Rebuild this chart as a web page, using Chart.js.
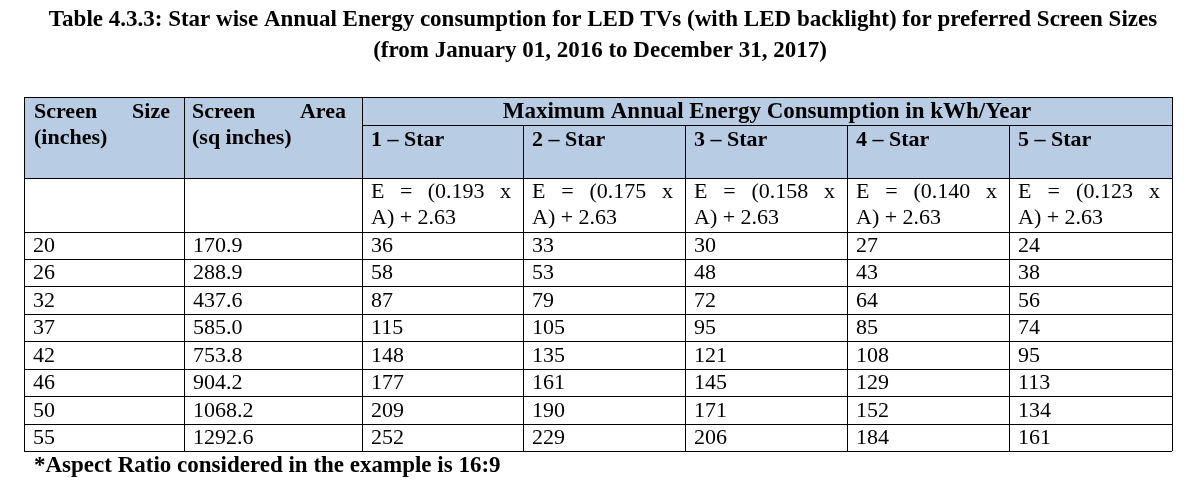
<!DOCTYPE html>
<html>
<head>
<meta charset="utf-8">
<script src="https://cdn.jsdelivr.net/npm/chart.js@4"></script>
<style>
  html, body { margin: 0; padding: 0; background: #fff; }
  #wrap { width: 1187px; height: 487px; }
</style>
</head>
<body>
<div id="wrap"><canvas id="c"></canvas></div>
<script>
// table data
const screenSizes = ['20', '26', '32', '37', '42', '46', '50', '55'];
const screenAreas = ['170.9', '288.9', '437.6', '585.0', '753.8', '904.2', '1068.2', '1292.6'];
const star1 = [36, 58, 87, 115, 148, 177, 209, 252];
const star2 = [33, 53, 79, 105, 135, 161, 190, 229];
const star3 = [30, 48, 72, 95, 121, 145, 171, 206];
const star4 = [27, 43, 64, 85, 108, 129, 152, 184];
const star5 = [24, 38, 56, 74, 95, 113, 134, 161];
const starLabels = ['1 – Star', '2 – Star', '3 – Star', '4 – Star', '5 – Star'];
const coeffs = ['0.193', '0.175', '0.158', '0.140', '0.123'];
const titleLines = [
  'Table 4.3.3: Star wise Annual Energy consumption for LED TVs (with LED backlight) for preferred Screen Sizes',
  '(from January 01, 2016 to December 31, 2017)'
];
const footnote = '*Aspect Ratio considered in the example is 16:9';

// layout (in scale units == pixels)
const colX = [24, 184, 362, 523, 685, 847, 1009, 1172];
const rowY = [97, 125, 178, 232, 259, 286, 314, 341, 369, 396, 424, 451];
const serif = '"Liberation Serif", "Times New Roman", serif';

function justify(ctx, words, x0, x1, y) {
  const w = words.map(t => ctx.measureText(t).width);
  const gap = (x1 - x0 - w.reduce((a, b) => a + b, 0)) / (words.length - 1);
  let x = x0;
  words.forEach((t, i) => { ctx.fillText(t, x, y); x += w[i] + gap; });
}

const tablePlugin = {
  id: 'table',
  afterDraw(chart) {
    const { ctx, scales: { x, y } } = chart;
    const X = v => x.getPixelForValue(v), Y = v => y.getPixelForValue(v);
    ctx.save();
    ctx.fillStyle = '#000';
    ctx.textBaseline = 'middle';
    ctx.textAlign = 'center';
    ctx.font = 'bold 23px ' + serif;
    ctx.fillText(titleLines[0], X(603), Y(20));
    ctx.fillText(titleLines[1], X(600), Y(51));

    // header shading
    ctx.fillStyle = '#b8cce4';
    ctx.fillRect(X(colX[0]), Y(rowY[0]), X(colX[7]) - X(colX[0]), Y(rowY[2]) - Y(rowY[0]));

    // grid lines
    ctx.strokeStyle = '#000';
    ctx.lineWidth = 1;
    ctx.beginPath();
    const h = (yy, a, b) => { ctx.moveTo(X(a), Y(yy) + 0.5); ctx.lineTo(X(b), Y(yy) + 0.5); };
    const v = (xx, a, b) => { ctx.moveTo(X(xx) + 0.5, Y(a)); ctx.lineTo(X(xx) + 0.5, Y(b)); };
    rowY.forEach((r, i) => { if (i === 1) h(r, colX[2], colX[7]); else h(r, colX[0], colX[7]); });
    colX.forEach((c, i) => {
      if (i >= 3 && i <= 6) v(c, rowY[1], rowY[11]); else v(c, rowY[0], rowY[11]);
    });
    ctx.stroke();

    // header text
    ctx.fillStyle = '#000';
    ctx.textAlign = 'left';
    ctx.font = 'bold 22px ' + serif;
    justify(ctx, ['Screen', 'Size'], X(colX[0] + 10), X(colX[1] - 14), Y(112));
    ctx.fillText('(inches)', X(colX[0] + 10), Y(138));
    justify(ctx, ['Screen', 'Area'], X(colX[1] + 8), X(colX[2] - 16), Y(112));
    ctx.fillText('(sq inches)', X(colX[1] + 8), Y(138));
    ctx.textAlign = 'center';
    ctx.font = 'bold 23px ' + serif;
    ctx.fillText('Maximum Annual Energy Consumption in kWh/Year', X((colX[2] + colX[7]) / 2), Y(112));
    ctx.textAlign = 'left';
    ctx.font = 'bold 22px ' + serif;
    starLabels.forEach((s, i) => ctx.fillText(s, X(colX[i + 2] + 9), Y(140)));

    // formula row
    ctx.font = '22px ' + serif;
    coeffs.forEach((c, i) => {
      justify(ctx, ['E', '=', '(' + c, 'x'], X(colX[i + 2] + 9), X(colX[i + 3] - 12), Y(192));
      ctx.fillText('A) + 2.63', X(colX[i + 2] + 9), Y(218));
    });

    // data rows
    const cols = [screenSizes, screenAreas, star1, star2, star3, star4, star5];
    screenSizes.forEach((_, r) => {
      const yc = (rowY[r + 3] + rowY[r + 4]) / 2 + 1;
      cols.forEach((arr, ci) => ctx.fillText(String(arr[r]), X(colX[ci] + 9), Y(yc)));
    });

    ctx.font = 'bold 23px ' + serif;
    ctx.fillText(footnote, X(34), Y(466));
    ctx.restore();
  }
};

new Chart(document.getElementById('c'), {
  type: 'scatter',
  data: { datasets: [{ data: [] }] },
  options: {
    responsive: true,
    maintainAspectRatio: false,
    animation: false,
    layout: { padding: 0 },
    plugins: { legend: { display: false }, tooltip: { enabled: false } },
    scales: {
      x: { type: 'linear', min: 0, max: 1187, display: false },
      y: { type: 'linear', min: 0, max: 487, reverse: true, display: false }
    }
  },
  plugins: [tablePlugin]
});
</script>
</body>
</html>
